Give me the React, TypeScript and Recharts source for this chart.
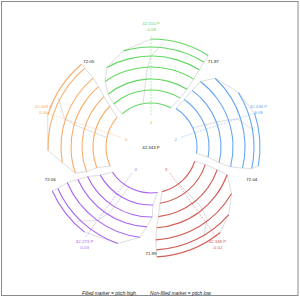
import { Pie, PieChart, Scatter, ScatterChart, XAxis, YAxis } from "recharts";

// sectors go counter-clockwise from the top, angles in degrees (0 = 3 o'clock)
const SECTOR_IDS = ["1", "2", "3", "4", "5"];
const SECTOR_ANGLES = [90, 18, -54, -126, 162];
const PITCH_VALUES = ["42.310 P", "42.436 P", "42.348 P", "42.273 P", "42.349 P"];
const PITCH_DEVIATIONS = ["-0.09", "0.08", "-0.02", "0.03", "0.00"];
const ANGULAR_PITCHES = ["71.87", "72.04", "71.99", "72.06", "72.05"];
const MEAN_PITCH = "42.343 P";

// one row per sector, one value per ring (inner -> outer)
const RING_RADII = [
  [44, 57, 68, 80, 91, 100, 108],
  [46, 58, 70, 82, 94, 103, 109],
  [46, 57, 70, 81, 93, 103, 110],
  [46, 58, 70, 80, 91, 102, 108],
  [45, 58, 69, 80, 90, 103, 108],
];
// arc ends, relative to the sector axis
const ARC_CW = [
  [-27, -31, -32, -32, -32, -32, -32],
  [-26, -28, -31, -32, -31, -30, -28],
  [-22, -27, -30, -32, -33, -33, -33],
  [-21, -25, -29, -30, -31, -30, -30],
  [-23, -27, -29, -31, -32, -32, -32],
];
const ARC_CCW = [
  [41, 41, 39, 35, 29, 16, 0],
  [39, 37, 36, 35, 29, 14, 0],
  [36, 36, 35, 34, 24, 13, 3],
  [44, 38, 37, 33, 29, 17, -2],
  [43, 39, 39, 37, 28, 20, 1],
];
// grey trace inside each sector
const TRACE_RADII = [45, 77, 91, 105];
const TRACE_OFFSETS = [
  [10, 3, 0, -7],
  [7, 2, 0, -9],
  [1, 4, 2, -6],
  [7, 4, 0, -9],
  [6, 2, 0, -10],
];

const COLORS = ["#62d862", "#68a6f4", "#d25d56", "#a965f0", "#f8ad68"];
const GREY = "#d4d4d4";
const INK = "#222";
const FONT = "'Liberation Sans', Arial, sans-serif";

const SIZE = 300;
const CX = 151;
const CY = 147;
const RAD = Math.PI / 180;

const polar = (r: number, deg: number) => ({
  x: r * Math.cos(deg * RAD),
  y: r * Math.sin(deg * RAD),
});

const noDot = () => <g />;

const layer: React.CSSProperties = { position: "absolute", left: 0, top: 0 };

export default function App() {
  const arcs = SECTOR_ANGLES.flatMap((a, s) =>
    RING_RADII[s].map((r, k) => ({
      key: `${s}-${k}`,
      r,
      start: a + ARC_CW[s][k],
      end: a + ARC_CCW[s][k],
      color: COLORS[s],
    }))
  );

  const outlines = SECTOR_ANGLES.map((a, s) => ({
    cw: RING_RADII[s].map((r, k) => polar(r, a + ARC_CW[s][k])),
    ccw: RING_RADII[s].map((r, k) => polar(r, a + ARC_CCW[s][k])),
    trace: TRACE_RADII.map((r, k) => polar(r, a + TRACE_OFFSETS[s][k])),
    axis: [polar(32, a), polar(112, a)],
  }));

  const toScreen = (r: number, deg: number) => ({
    x: CX + r * Math.cos(deg * RAD),
    y: CY - r * Math.sin(deg * RAD),
  });

  return (
    <div style={{ position: "absolute", left: 0, top: 0, width: SIZE, height: SIZE, background: "#fff" }}>
      <div style={layer}>
        <ScatterChart width={SIZE} height={SIZE} margin={{ top: 0, right: 0, bottom: 0, left: 0 }}>
          <XAxis type="number" dataKey="x" domain={[-CX, SIZE - CX]} allowDataOverflow hide />
          <YAxis type="number" dataKey="y" domain={[CY - SIZE, CY]} allowDataOverflow hide />
          {outlines.map((o, s) => [
            <Scatter key={`cw${s}`} data={o.cw} line={{ stroke: GREY, strokeWidth: 0.8 }} lineType="joint" shape={noDot} isAnimationActive={false} />,
            <Scatter key={`ccw${s}`} data={o.ccw} line={{ stroke: GREY, strokeWidth: 0.8 }} lineType="joint" shape={noDot} isAnimationActive={false} />,
            <Scatter key={`tr${s}`} data={o.trace} line={{ stroke: GREY, strokeWidth: 0.8 }} lineType="joint" shape={noDot} isAnimationActive={false} />,
            <Scatter
              key={`ax${s}`}
              data={o.axis}
              line={{ stroke: COLORS[s], strokeOpacity: 0.5, strokeWidth: 0.9, strokeDasharray: "2 1.2" }}
              lineType="joint"
              shape={noDot}
              isAnimationActive={false}
            />,
          ])}
        </ScatterChart>
      </div>

      <div style={layer}>
        <PieChart width={SIZE} height={SIZE} margin={{ top: 0, right: 0, bottom: 0, left: 0 }}>
          {arcs.map((arc) => (
            <Pie
              key={arc.key}
              data={[{ span: arc.end - arc.start }]}
              dataKey="span"
              cx={CX}
              cy={CY}
              innerRadius={arc.r - 0.55}
              outerRadius={arc.r + 0.55}
              startAngle={arc.start}
              endAngle={arc.end}
              fill={arc.color}
              stroke="none"
              isAnimationActive={false}
            />
          ))}
        </PieChart>
      </div>

      <svg width={SIZE} height={SIZE} style={{ ...layer, pointerEvents: "none" }} fontFamily={FONT}>
        <rect x={1.5} y={1.5} width={296.5} height={294} fill="none" stroke="#8c8c8c" strokeWidth={1} />
        <text x={CX} y={CY} fontSize={4.4} fill={INK} textAnchor="middle" dominantBaseline="central">
          {MEAN_PITCH}
        </text>
        {SECTOR_ANGLES.map((a, s) => {
          const num = toScreen(26, a);
          const lab = { x: CX + 113 * Math.cos(a * RAD), y: CY - 121 * Math.sin(a * RAD) };
          const ang = toScreen(106, a - 36);
          return (
            <g key={s}>
              <text x={num.x} y={num.y + 1} fontSize={4.4} fill={COLORS[s]} textAnchor="middle" dominantBaseline="central">
                {SECTOR_IDS[s]}
              </text>
              <text x={lab.x} y={lab.y - 3} fontSize={4.4} fill={COLORS[s]} textAnchor="middle" dominantBaseline="central">
                {PITCH_VALUES[s]}
              </text>
              <text x={lab.x} y={lab.y + 3} fontSize={4.4} fill={COLORS[s]} textAnchor="middle" dominantBaseline="central">
                {PITCH_DEVIATIONS[s]}
              </text>
              <text x={ang.x} y={ang.y} fontSize={4.4} fill={INK} textAnchor="middle" dominantBaseline="central">
                {ANGULAR_PITCHES[s]}
              </text>
            </g>
          );
        })}
        <text x={82} y={293} fontSize={4.8} fontStyle="italic" fill={INK} dominantBaseline="central">
          Filled marker = pitch high.
        </text>
        <text x={150} y={293} fontSize={4.8} fontStyle="italic" fill={INK} dominantBaseline="central">
          Non-filled marker = pitch low.
        </text>
      </svg>
    </div>
  );
}
